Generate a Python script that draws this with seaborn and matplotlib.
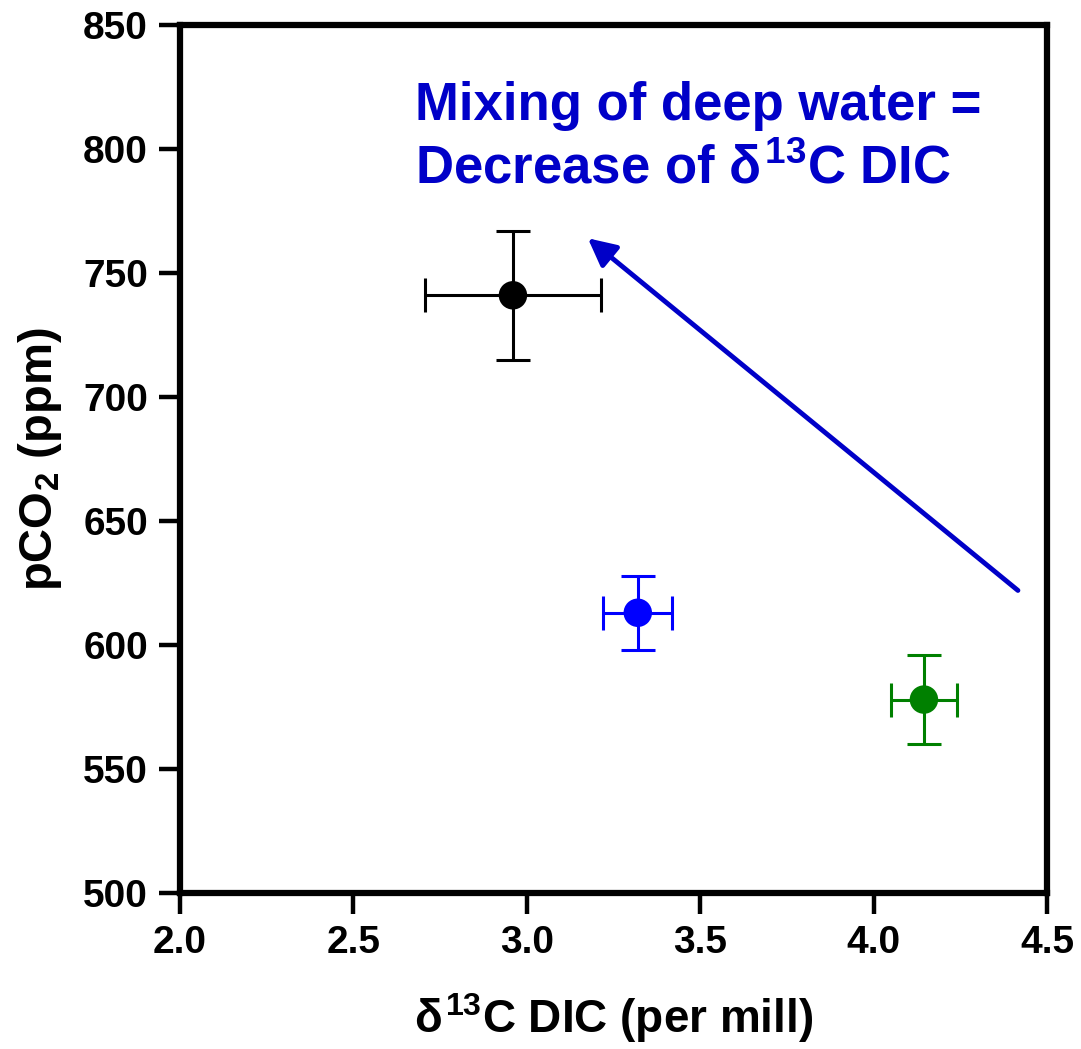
import matplotlib
matplotlib.use("Agg")
import matplotlib.pyplot as plt
import seaborn as sns
import pandas as pd

# Station means with their standard deviations
groups = ["Deep mixed", "Intermediate", "Surface"]
d13c = [2.96, 3.32, 4.145]
d13c_err = [0.255, 0.10, 0.095]
pco2 = [741, 613, 578]
pco2_err = [26, 15, 18]
colors = ["#000000", "#0000ff", "#008000"]

x_ticks = [2.0, 2.5, 3.0, 3.5, 4.0, 4.5]
y_ticks = [500, 550, 600, 650, 700, 750, 800, 850]

# Trend arrow (tail -> head) in data units
arrow_tail = (4.416, 622)
arrow_head = (3.176, 764)
note_color = "#0000c8"

df = pd.DataFrame({"group": groups, "d13c": d13c, "pco2": pco2})

sns.set_theme(style="ticks")
plt.rcParams["font.family"] = ["Liberation Sans", "DejaVu Sans"]
plt.rcParams["font.weight"] = "bold"
plt.rcParams["mathtext.fontset"] = "custom"
plt.rcParams["mathtext.rm"] = "Liberation Sans:bold"
plt.rcParams["mathtext.it"] = "Liberation Sans:bold"
plt.rcParams["mathtext.bf"] = "Liberation Sans:bold"

fig = plt.figure(figsize=(10.81, 10.49), dpi=100)
ax = fig.add_axes([0.1665, 0.1487, 0.8021, 0.8275])

for xi, yi, xe, ye, c in zip(d13c, pco2, d13c_err, pco2_err, colors):
    ax.errorbar(xi, yi, xerr=xe, yerr=ye, fmt="none", ecolor=c,
                elinewidth=2.2, capsize=12, capthick=2.2, zorder=2)

sns.scatterplot(data=df, x="d13c", y="pco2", hue="group", palette=colors,
                s=420, edgecolor="none", legend=False, ax=ax, zorder=3)

ax.set_xlim(2.0, 4.5)
ax.set_ylim(500, 850)
ax.set_xticks(x_ticks)
ax.set_xticklabels([f"{v:.1f}" for v in x_ticks])
ax.set_yticks(y_ticks)

for s in ax.spines.values():
    s.set_linewidth(4.5)
    s.set_color("black")
ax.tick_params(axis="both", which="major", direction="out", length=15,
               width=3.2, labelsize=28, pad=8, colors="black",
               top=False, right=False)
for lbl in ax.get_xticklabels() + ax.get_yticklabels():
    lbl.set_fontweight("bold")

ax.set_xlabel(r"$\delta^{13}$C DIC (per mill)", fontsize=33,
              fontweight="bold", labelpad=22, color="black")
ax.set_ylabel(r"pCO$_2$ (ppm)", fontsize=34, fontweight="bold",
              labelpad=14, color="black")

ax.text(0.271, 0.935, "Mixing of deep water =\n" + r"Decrease of $\delta^{13}$C DIC",
        transform=ax.transAxes, ha="left", va="top", fontsize=38,
        fontweight="bold", color=note_color, linespacing=1.33)

ax.annotate("", xy=arrow_head, xytext=arrow_tail,
            arrowprops=dict(arrowstyle="-|>", color=note_color, lw=3.5,
                            mutation_scale=42, shrinkA=0, shrinkB=0))

fig.savefig("out.png", dpi=100)
